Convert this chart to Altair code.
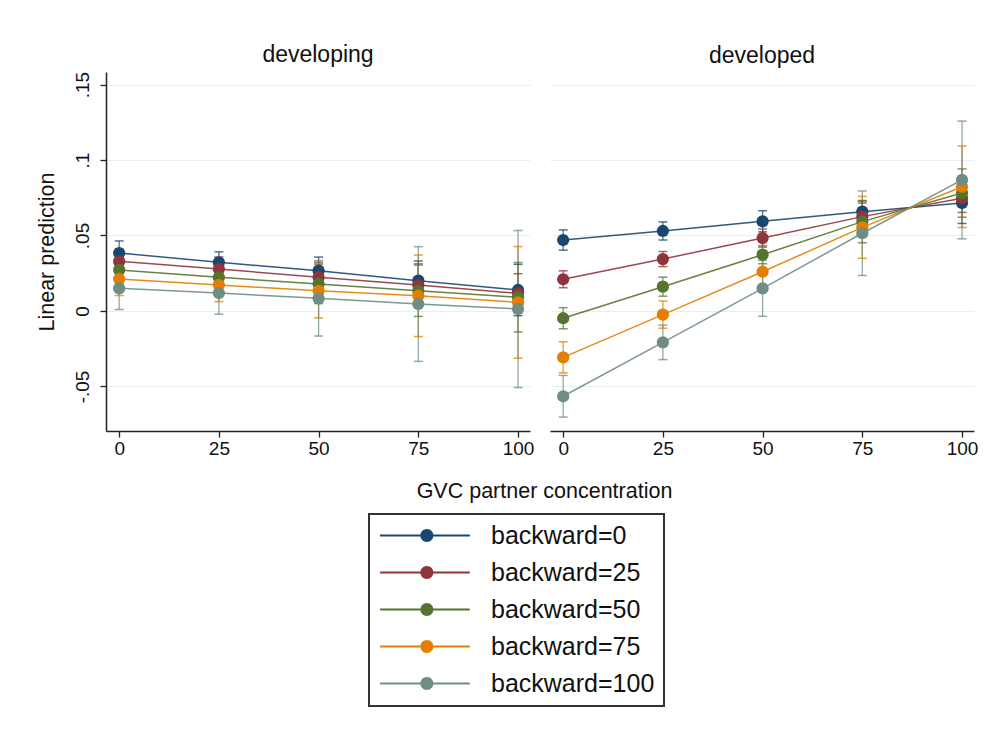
import altair as alt
import pandas as pd

# ---------------- data ----------------
x_vals = [0, 25, 50, 75, 100]
series = ["backward=0", "backward=25", "backward=50", "backward=75", "backward=100"]
colors = ["#1a476f", "#90353b", "#55752f", "#e37e00", "#6e8e84"]
panels = ["developing", "developed"]

developing_pred = [
    [0.0384, 0.0322, 0.0267, 0.0201, 0.0139],
    [0.0329, 0.0278, 0.0223, 0.0172, 0.0117],
    [0.0272, 0.0223, 0.0179, 0.0134, 0.0091],
    [0.0212, 0.0172, 0.0134, 0.0101, 0.0057],
    [0.0150, 0.0119, 0.0084, 0.0046, 0.0013],
]
developing_halfci = [
    [0.008, 0.007, 0.009, 0.013, 0.017],
    [0.008, 0.008, 0.010, 0.014, 0.013],
    [0.009, 0.009, 0.013, 0.017, 0.023],
    [0.011, 0.011, 0.018, 0.027, 0.037],
    [0.014, 0.014, 0.025, 0.038, 0.052],
]
developed_pred = [
    [0.0470, 0.0530, 0.0594, 0.0658, 0.0715],
    [0.0210, 0.0344, 0.0483, 0.0625, 0.0746],
    [-0.0048, 0.0161, 0.0373, 0.0592, 0.0781],
    [-0.0307, -0.0024, 0.0260, 0.0554, 0.0823],
    [-0.0565, -0.0208, 0.0150, 0.0515, 0.0868],
]
developed_halfci = [
    [0.0067, 0.0060, 0.0070, 0.0070, 0.0135],
    [0.0056, 0.0050, 0.0060, 0.0090, 0.0093],
    [0.0070, 0.0063, 0.0060, 0.0140, 0.0160],
    [0.0103, 0.0090, 0.0100, 0.0205, 0.0270],
    [0.0138, 0.0114, 0.0185, 0.0280, 0.0390],
]

rows = []
for pname, preds, cis in [
    (panels[0], developing_pred, developing_halfci),
    (panels[1], developed_pred, developed_halfci),
]:
    for s, plist, clist in zip(series, preds, cis):
        for xv, p, c in zip(x_vals, plist, clist):
            rows.append(dict(panel=pname, series=s, x=xv, pred=p, lo=p - c, hi=p + c))
df = pd.DataFrame(rows)

# ---------------- styling ----------------
FONT = "Liberation Sans"
x_dom = [-3.3, 103]
y_dom = [-0.0795, 0.1583]
y_ticks = [-0.05, 0, 0.05, 0.1, 0.15]
W, H = 424, 359

LEGEND_SYMBOL = ("M-1.6,-0.15H12.2V0.15H-1.6Z "
                 "M5.6,-1A1,1 0 1,1 5.6,1A1,1 0 1,1 5.6,-1Z")

color = alt.Color(
    "series:N",
    scale=alt.Scale(domain=series, range=colors),
    legend=alt.Legend(
        title=None,
        orient="none",
        legendX=263,
        legendY=442,
        symbolType=LEGEND_SYMBOL,
        symbolSize=169,
        symbolStrokeWidth=0,
        symbolOpacity=1,
        labelFont=FONT,
        labelFontSize=25,
        labelColor="#111",
        labelLimit=400,
        labelOffset=88,
        rowPadding=11,
        padding=9,
        strokeColor="#333",
    ),
)

Y_LABELS = "replace(replace(format(datum.value, '.2~f'), '0.', '.'), '\u2212', '-')"


def panel(name, left):
    x_axis = alt.Axis(
        values=x_vals,
        grid=False,
        labelPadding=2,
        title="GVC partner concentration" if left else None,
        titleX=438,
        titleAlign="center",
        titleFontSize=21.5,
        titleFont=FONT,
        titleFontWeight="normal",
        titlePadding=22,
    )
    if left:
        y_axis = alt.Axis(
            values=y_ticks,
            title="Linear prediction",
            labelExpr=Y_LABELS,
            labelAngle=270,
            labelAlign="center",
            labelBaseline="bottom",
            labelPadding=8,
            titleFontSize=21.5,
            titleFont=FONT,
            titleFontWeight="normal",
            titlePadding=15,
        )
    else:
        y_axis = alt.Axis(values=y_ticks, title=None, labels=False, ticks=False, domain=False)

    xs = alt.Scale(domain=x_dom, nice=False, zero=False)
    ys = alt.Scale(domain=y_dom, nice=False, zero=False)
    X = alt.X("x:Q", scale=xs, axis=x_axis)

    def Y(field):
        return alt.Y(field + ":Q", scale=ys, axis=y_axis, title="Linear prediction" if left else None)

    base = alt.Chart(df).transform_filter(alt.datum.panel == name)
    rules = base.mark_rule(strokeWidth=1.3, opacity=0.75).encode(
        x=X, y=Y("lo"), y2="hi:Q", color=color)
    cap_lo = base.mark_tick(orient="horizontal", size=9, thickness=1.5, opacity=0.75).encode(
        x=X, y=Y("lo"), color=color)
    cap_hi = base.mark_tick(orient="horizontal", size=9, thickness=1.5, opacity=0.75).encode(
        x=X, y=Y("hi"), color=color)
    lines = base.mark_line(strokeWidth=1.5, opacity=0.9).encode(
        x=X, y=Y("pred"), color=color)
    pts = base.mark_point(filled=True, size=150, opacity=1).encode(
        x=X, y=Y("pred"), color=color)
    return alt.layer(rules, cap_lo, cap_hi, lines, pts).properties(
        width=W,
        height=H,
        title=alt.TitleParams(name, fontSize=23, font=FONT, fontWeight="normal",
                              anchor="middle", offset=4, color="#111"),
    )


chart = alt.hconcat(
    panel(panels[0], True), panel(panels[1], False), spacing=20, bounds="flush"
).properties(
    padding={"left": 28, "top": 36, "right": 10, "bottom": 10},
).configure_view(
    stroke=None
).configure_axis(
    labelFont=FONT,
    labelFontSize=19,
    labelColor="#111",
    domainColor="#222",
    domainWidth=1.5,
    tickColor="#222",
    tickSize=6,
    tickWidth=1.3,
    gridColor="#e6eff1",
    gridWidth=1.2,
    titleColor="#111",
).configure_legend(
    strokeWidth=2
)

chart.save("out.html", embed_options={"renderer": "svg", "actions": False})
